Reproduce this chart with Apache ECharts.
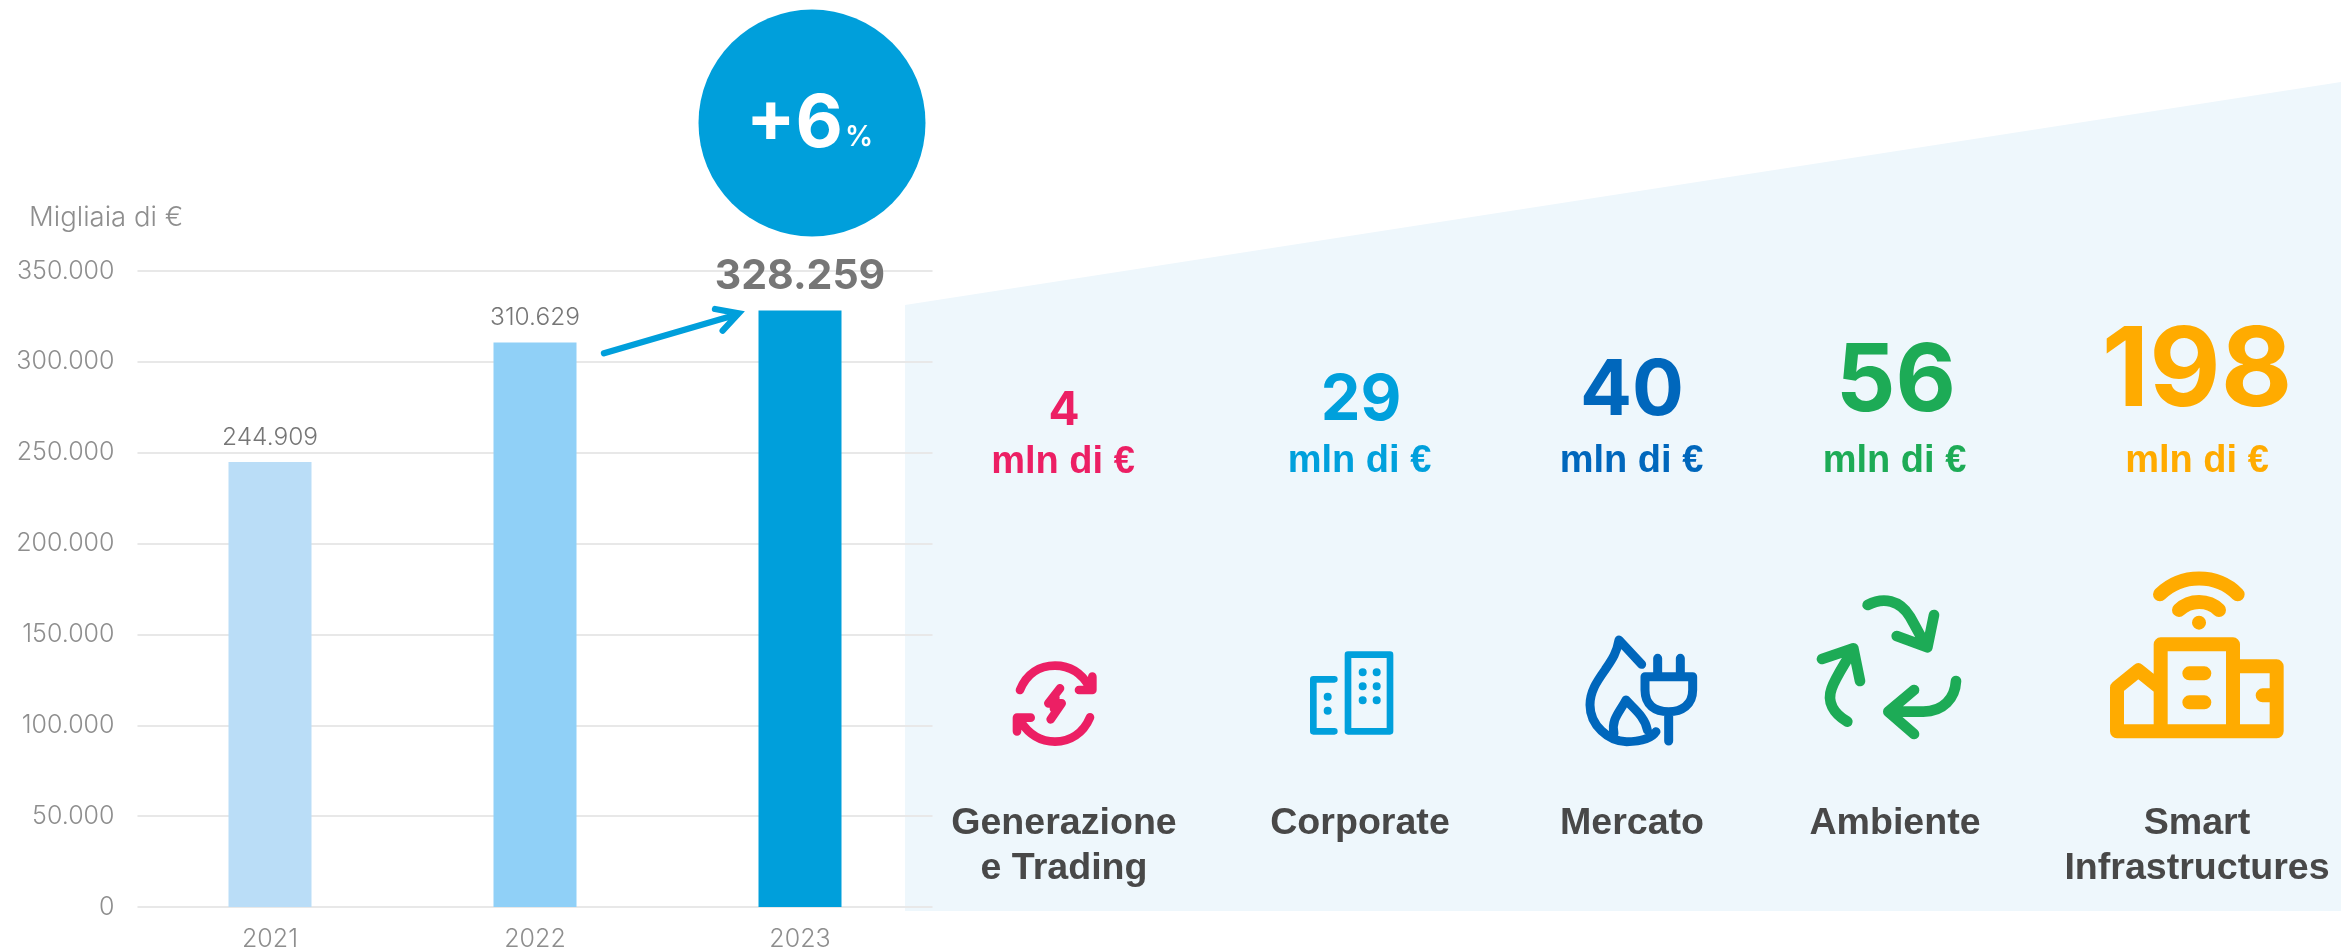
<!DOCTYPE html>
<html><head><meta charset="utf-8">
<style>html,body{margin:0;padding:0;background:#fff}#c{width:2341px;height:949px}</style>
<script src="https://cdn.jsdelivr.net/npm/echarts@6/dist/echarts.min.js"></script>
</head><body><div id="c"></div>
<script>
const years = ['2021','2022','2023'];
const revenue = [244909, 310629, 328259];
const barColors = ['#BADDF7','#90D0F7','#009FDB'];
const segmentNames = ['Generazione\ne Trading','Corporate','Mercato','Ambiente','Smart\nInfrastructures'];
const segmentValues = ['4','29','40','56','198'];
const segmentColors = ['#EC1F64','#00A0DC','#0067BC','#1DAB56','#FFAB00'];
const segmentX = [1064,1361,1632,1896,2197];
const unitX = [1063,1359.5,1631.5,1894.5,2197];
const labelX = [1064,1360,1632,1895,2197];
const valueY = [411,401,392,383,373];
const valueSize = [46,63,77,93,110];
const unitY = [463,462,462,462,462];
const fmt = v => String(v).replace(/\B(?=(\d{3})+(?!\d))/g,'.');
const BOLD = '"Liberation Sans", sans-serif';
const NUM = 'Inter, sans-serif';
const LIGHT = 'Inter, sans-serif';

const icons = [
 {x:990,y:640,w:26,color:'#EC1F64',join:'round',d:'M90 150C110 100 150 77 195 77C240 77 275 100 298 140M307 110L307 150L267 150M300 232C280 280 240 305 195 305C150 305 115 280 92 245M81 274L81 233L122 233M210 145L175 190L215 190L182 238M196 172L192 206'},
 {x:1290,y:640,w:20,color:'#00A0DC',join:'round',d:'M174 44H300V274H174ZM133 118H70V274H133'},
 {x:1290,y:640,w:24,color:'#00A0DC',join:'round',d:'M218 97h.1M260 97h.1M218 139h.1M260 139h.1M218 181h.1M260 181h.1M113 170h.1M113 212h.1'},
 {x:1570,y:625,w:27,color:'#0067BC',join:'round',d:'M215 118L147 45C140 85 125 105 105 135C80 170 60 200 60 240C60 300 115 350 170 350C210 350 245 340 258 320M132 325C122 285 150 260 168 225C190 250 225 275 232 315M225 155H368V195C368 240 335 260 296 260C255 260 225 240 225 195ZM263 100V155M331 100V155M296 260V348'},
 {x:1800,y:585,w:32,color:'#1DAB56',join:'round',d:'M203 60C250 35 300 45 330 95C350 130 365 160 380 185M402 90L382 187L290 153M142 410C100 385 80 350 95 310C110 270 140 230 160 190M66 222L160 190L180 288M468 288C465 340 430 380 370 380L265 380M342 315L265 380L342 447'},
 {x:2095,y:565,w:42,color:'#FFAB00',join:'round',d:'M195 88C260 25 365 25 428 88M252 135C285 103 340 103 372 135M312 173h.1M197 499V238H414V499M66 499V368L130 316L197 370M66 499H545V304H414M503 391H545M283 325H328M283 412H328'},
 {x:590,y:290,w:19,color:'#009FDB',join:'miter',d:'M42 190L438 74M375 57L446 70L398 122'}
];

const graphics = [];
graphics.push({type:'polygon',silent:true,z:-10,shape:{points:[[905,305],[2341,82],[2341,911],[905,911]]},style:{fill:'#EEF7FC'}});
graphics.push({type:'circle',silent:true,z:5,shape:{cx:812,cy:123,r:113.5},style:{fill:'#009FDB'}});
graphics.push({type:'text',z:6,silent:true,style:{text:'+6',x:843,y:125,align:'right',verticalAlign:'middle',fontFamily:NUM,fontWeight:700,fontSize:73,fill:'#fff'}});
graphics.push({type:'text',z:6,silent:true,style:{text:'%',x:845,y:138,align:'left',verticalAlign:'middle',fontFamily:NUM,fontWeight:600,fontSize:28,fill:'#fff'}});
segmentValues.forEach((v,i)=>{
  graphics.push({type:'text',silent:true,z:4,style:{text:v,x:segmentX[i],y:valueY[i],align:'center',verticalAlign:'middle',fontFamily:NUM,fontWeight:700,fontSize:valueSize[i],fill:segmentColors[i]}});
  graphics.push({type:'text',silent:true,z:4,style:{text:'mln di €',x:unitX[i],y:unitY[i],align:'center',verticalAlign:'middle',fontFamily:BOLD,fontWeight:'bold',fontSize:38,fill:segmentColors[i]}});
  graphics.push({type:'text',silent:true,z:4,style:{text:segmentNames[i],x:labelX[i],y:801,align:'center',verticalAlign:'top',lineHeight:45,fontFamily:BOLD,fontWeight:'bold',fontSize:37.6,fill:'#484848'}});
});

const chart = echarts.init(document.getElementById('c'),null,{renderer:'canvas'});
chart.setOption({
  animation:false,
  backgroundColor:'#fff',
  title:{text:'Migliaia di €',left:24,top:199,textStyle:{fontFamily:LIGHT,fontWeight:300,fontSize:27.5,color:'#8E8E8E'}},
  grid:{left:137.5,right:2341-932.5,top:271,bottom:949-907,containLabel:false,outerBoundsMode:'none'},
  xAxis:{type:'category',data:years,axisLine:{show:false},axisTick:{show:false},
    axisLabel:{margin:20,fontFamily:LIGHT,fontWeight:300,fontSize:25,color:'#8E8E8E'}},
  yAxis:{type:'value',min:0,max:350000,interval:50000,axisLine:{show:false},axisTick:{show:false},
    axisLabel:{margin:23,padding:[3,0,0,0],fontFamily:LIGHT,fontWeight:300,fontSize:25,color:'#8E8E8E',formatter:fmt},
    splitLine:{lineStyle:{color:'#E8E8E8',width:2}}},
  series:[{type:'bar',barWidth:83,z:2,
    data:revenue.map((v,i)=>({value:v,itemStyle:{color:barColors[i]},
      label:i===2?{fontSize:41,fontWeight:700,fontFamily:NUM,color:'#767676',distance:13}:{}})),
    label:{show:true,position:'top',distance:12,formatter:p=>fmt(p.value),fontFamily:LIGHT,fontWeight:300,fontSize:24.5,color:'#767676'}},
   {type:'custom',coordinateSystem:'none',silent:true,z:6,clip:false,
    data:icons.map((_,i)=>[i]),
    renderItem:(params)=>{const ic=icons[params.dataIndex];
      return {type:'path',x:ic.x,y:ic.y,scaleX:1/3,scaleY:1/3,shape:{pathData:ic.d},
        style:{fill:'none',stroke:ic.color,lineWidth:ic.w,lineCap:'round',lineJoin:ic.join}};}}],
  graphic:graphics
});
</script></body></html>
